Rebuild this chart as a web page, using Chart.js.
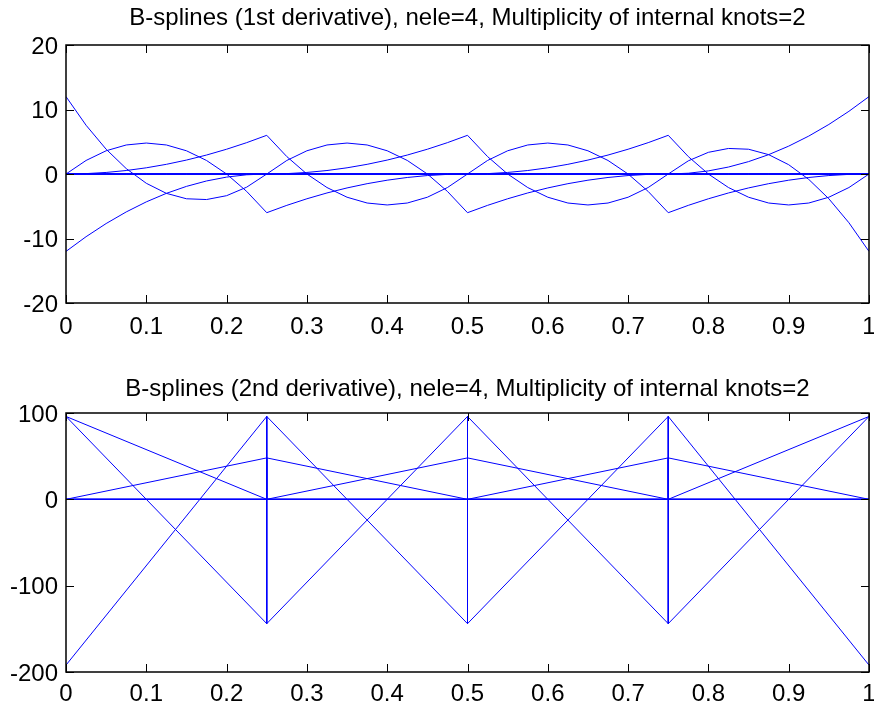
<!DOCTYPE html>
<html><head><meta charset="utf-8">
<script src="https://cdn.jsdelivr.net/npm/chart.js@4.4.0/dist/chart.umd.min.js"></script>
<style>
html,body{margin:0;padding:0;background:#fff;overflow:hidden;}
#p1{position:absolute;left:0;top:0;}
#p2{position:absolute;left:0;top:352px;}
</style></head><body>
<canvas id="p1" width="874" height="352"></canvas>
<canvas id="p2" width="874" height="351"></canvas>
<script>
// ---------- data ----------
const TITLE_1 = 'B-splines (1st derivative), nele=4, Multiplicity of internal knots=2';
const TITLE_2 = 'B-splines (2nd derivative), nele=4, Multiplicity of internal knots=2';
const X_TICK_LABELS = ['0','0.1','0.2','0.3','0.4','0.5','0.6','0.7','0.8','0.9','1'];
const Y1_TICK_LABELS = ['-20','-10','0','10','20'];
const Y2_TICK_LABELS = ['-200','-100','0','100'];

// sample positions for the 1st derivative curves
const X1 = [0,0.025,0.05,0.075,0.1,0.125,0.15,0.175,0.2,0.225,0.25,0.275,0.3,0.325,0.35,0.375,0.4,0.425,0.45,0.475,0.5,0.525,0.55,0.575,0.6,0.625,0.65,0.675,0.7,0.725,0.75,0.775,0.8,0.825,0.85,0.875,0.9,0.925,0.95,0.975,1];

const D1_B1 = [-12,-9.72,-7.68,-5.88,-4.32,-3,-1.92,-1.08,-0.48,-0.12,0, 0,0,0,0,0,0,0,0,0,0, 0,0,0,0,0,0,0,0,0,0, 0,0,0,0,0,0,0,0,0,0];
const D1_B2 = [12,7.56,3.84,0.84,-1.44,-3,-3.84,-3.96,-3.36,-2.04,0, 0,0,0,0,0,0,0,0,0,0, 0,0,0,0,0,0,0,0,0,0, 0,0,0,0,0,0,0,0,0,0];
const D1_B3 = [0,2.1,3.6,4.5,4.8,4.5,3.6,2.1,0,-2.7,-6, -4.86,-3.84,-2.94,-2.16,-1.5,-0.96,-0.54,-0.24,-0.06,0, 0,0,0,0,0,0,0,0,0,0, 0,0,0,0,0,0,0,0,0,0];
const D1_B4 = [0,0.06,0.24,0.54,0.96,1.5,2.16,2.94,3.84,4.86,6, 2.7,0,-2.1,-3.6,-4.5,-4.8,-4.5,-3.6,-2.1,0, 0,0,0,0,0,0,0,0,0,0, 0,0,0,0,0,0,0,0,0,0];
const D1_B5 = [0,0,0,0,0,0,0,0,0,0, 0,2.1,3.6,4.5,4.8,4.5,3.6,2.1,0,-2.7,-6, -4.86,-3.84,-2.94,-2.16,-1.5,-0.96,-0.54,-0.24,-0.06,0, 0,0,0,0,0,0,0,0,0,0];
const D1_B6 = [0,0,0,0,0,0,0,0,0,0, 0,0.06,0.24,0.54,0.96,1.5,2.16,2.94,3.84,4.86,6, 2.7,0,-2.1,-3.6,-4.5,-4.8,-4.5,-3.6,-2.1,0, 0,0,0,0,0,0,0,0,0,0];
const D1_B7 = [0,0,0,0,0,0,0,0,0,0, 0,0,0,0,0,0,0,0,0,0, 0,2.1,3.6,4.5,4.8,4.5,3.6,2.1,0,-2.7,-6, -4.86,-3.84,-2.94,-2.16,-1.5,-0.96,-0.54,-0.24,-0.06,0];
const D1_B8 = [0,0,0,0,0,0,0,0,0,0, 0,0,0,0,0,0,0,0,0,0, 0,0.06,0.24,0.54,0.96,1.5,2.16,2.94,3.84,4.86,6, 2.7,0,-2.1,-3.6,-4.5,-4.8,-4.5,-3.6,-2.1,0];
const D1_B9 = [0,0,0,0,0,0,0,0,0,0, 0,0,0,0,0,0,0,0,0,0, 0,0,0,0,0,0,0,0,0,0, 0,2.04,3.36,3.96,3.84,3,1.44,-0.84,-3.84,-7.56,-12];
const D1_B10 = [0,0,0,0,0,0,0,0,0,0, 0,0,0,0,0,0,0,0,0,0, 0,0,0,0,0,0,0,0,0,0, 0,0.12,0.48,1.08,1.92,3,4.32,5.88,7.68,9.72,12];

// sample positions for the 2nd derivative curves (knots listed twice: left / right value)
const X2 = [0,0.25,0.25,0.5,0.5,0.75,0.75,1];
const D2_B1 = [96,0,0,0,0,0,0,0];
const D2_B2 = [-192,96,0,0,0,0,0,0];
const D2_B3 = [96,-144,48,0,0,0,0,0];
const D2_B4 = [0,48,-144,96,0,0,0,0];
const D2_B5 = [0,0,96,-144,48,0,0,0];
const D2_B6 = [0,0,0,48,-144,96,0,0];
const D2_B7 = [0,0,0,0,96,-144,48,0];
const D2_B8 = [0,0,0,0,0,48,-144,96];
const D2_B9 = [0,0,0,0,0,0,96,-192];
const D2_B10 = [0,0,0,0,0,0,0,96];

const SERIES_1 = [D1_B1,D1_B2,D1_B3,D1_B4,D1_B5,D1_B6,D1_B7,D1_B8,D1_B9,D1_B10];
const SERIES_2 = [D2_B1,D2_B2,D2_B3,D2_B4,D2_B5,D2_B6,D2_B7,D2_B8,D2_B9,D2_B10];

// ---------- styling ----------
const FONT = 'Liberation Sans, Arial, Helvetica, sans-serif';
const FS = 24;
const BLUE = '#0000ff';

const boxTicks = {
  id: 'boxTicks',
  afterLayout(chart) {
    // centre the title over the axes box, as in the reference
    if (chart.titleBlock) {
      chart.titleBlock.left = chart.chartArea.left;
      chart.titleBlock.right = chart.chartArea.right;
    }
  },
  afterDatasetsDraw(chart) {
    const ctx = chart.ctx, a = chart.chartArea, x = chart.scales.x, y = chart.scales.y;
    const L = 8;
    ctx.save();
    ctx.strokeStyle = '#000';
    ctx.lineWidth = 1;
    ctx.beginPath();
    x.ticks.forEach(t => {
      const px = Math.round(x.getPixelForValue(t.value)) + 0.5;
      ctx.moveTo(px, a.bottom); ctx.lineTo(px, a.bottom - L);
      ctx.moveTo(px, a.top); ctx.lineTo(px, a.top + L);
    });
    y.ticks.forEach(t => {
      const py = Math.round(y.getPixelForValue(t.value)) + 0.5;
      ctx.moveTo(a.left, py); ctx.lineTo(a.left + L, py);
      ctx.moveTo(a.right, py); ctx.lineTo(a.right - L, py);
    });
    ctx.stroke();
    ctx.lineWidth = 1.5;
    ctx.strokeRect(a.left, a.top, a.right - a.left, a.bottom - a.top);
    ctx.restore();
  }
};

function makeChart(id, title, xs, series, yMin, yMax, yStep, yLabels, titlePad, xAxisH, xLabPad) {
  const datasets = series.map(vals => ({
    data: vals.map((v, i) => ({x: xs[i], y: v})),
    borderColor: BLUE,
    borderWidth: 1,
    pointRadius: 0,
    tension: 0,
    fill: false
  }));
  return new Chart(document.getElementById(id), {
    type: 'line',
    data: {datasets},
    plugins: [boxTicks],
    options: {
      responsive: false,
      animation: false,
      devicePixelRatio: 1,
      layout: {padding: {left: 0, right: 5, top: 0, bottom: 0}},
      plugins: {
        legend: {display: false},
        tooltip: {enabled: false},
        title: {
          display: true, text: title, color: '#000',
          font: {family: FONT, size: FS, weight: 'normal', lineHeight: 1.2},
          padding: titlePad
        }
      },
      scales: {
        x: {
          type: 'linear', min: 0, max: 1,
          grid: {display: false, drawTicks: false},
          border: {display: false},
          ticks: {
            stepSize: 0.1, maxRotation: 0, autoSkip: false,
            color: '#000', padding: xLabPad,
            font: {family: FONT, size: FS, lineHeight: 1.2},
            callback: (v, i) => X_TICK_LABELS[i]
          },
          afterFit: s => { s.height = xAxisH; s.paddingLeft = 0; s.paddingRight = 0; }
        },
        y: {
          type: 'linear', min: yMin, max: yMax,
          grid: {display: false, drawTicks: false},
          border: {display: false},
          ticks: {
            stepSize: yStep, autoSkip: false,
            color: '#000', padding: 8, labelOffset: 2,
            font: {family: FONT, size: FS, lineHeight: 1.2},
            callback: (v, i) => yLabels[i]
          },
          afterFit: s => { s.width = 66; s.paddingTop = 0; s.paddingBottom = 0; }
        }
      }
    }
  });
}

makeChart('p1', TITLE_1, X1, SERIES_1, -20, 20, 10, Y1_TICK_LABELS, {top: 3.5, bottom: 12.7}, 49, 9.5);
makeChart('p2', TITLE_2, X2, SERIES_2, -200, 100, 100, Y2_TICK_LABELS, {top: 22.5, bottom: 9.7}, 31, 7.5);
</script>
</body></html>
